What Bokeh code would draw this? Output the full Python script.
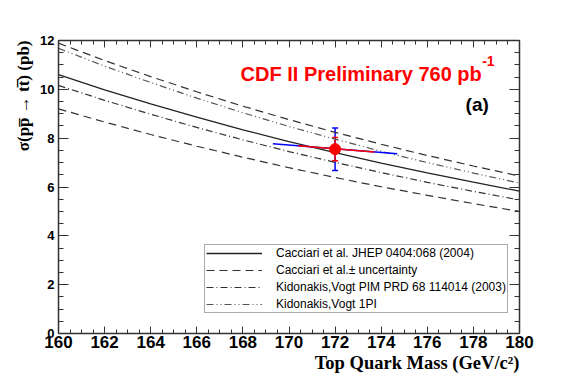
from bokeh.plotting import figure
from bokeh.models import (LinearAxis, SingleIntervalTicker, Range1d, Legend, LegendItem,
                          Label, Title, Whisker, ColumnDataSource, TeeHead, CustomJSTickFormatter)
from bokeh.embed import file_html
from bokeh.resources import INLINE

# ---------------- data ----------------
mass = [160, 162, 164, 166, 168, 170, 172, 174, 176, 178, 180]
cacciari = [10.60, 9.98, 9.40, 8.86, 8.34, 7.86, 7.41, 6.98, 6.58, 6.20, 5.83]
cacciari_hi = [11.89, 11.18, 10.52, 9.90, 9.31, 8.76, 8.24, 7.75, 7.29, 6.86, 6.45]
cacciari_lo = [9.20, 8.66, 8.15, 7.67, 7.22, 6.79, 6.39, 6.01, 5.66, 5.32, 5.00]
kv_pim = [10.16, 9.55, 8.98, 8.44, 7.93, 7.45, 7.01, 6.59, 6.19, 5.82, 5.47]
kv_1pi = [11.68, 10.95, 10.28, 9.64, 9.04, 8.48, 7.96, 7.46, 7.00, 6.57, 6.16]

meas_mass = [172.0]
meas_xs = [7.55]
stat_err = [0.48]
tot_err = [0.87]
band_mass_tot = [169.3, 174.7]
band_xs_tot = [7.77, 7.36]
band_mass_stat = [170.4, 173.7]
band_xs_stat = [7.69, 7.43]

legend_labels = ["Cacciari et al. JHEP 0404:068 (2004)",
                 "Cacciari et al.\u00b1 uncertainty",
                 "Kidonakis,Vogt PIM PRD 68 114014 (2003)",
                 "Kidonakis,Vogt 1PI"]
x_title = "Top Quark Mass (GeV/c\u00b2)"
y_title = "\u03c3(pp\u0305 \u2192 tt\u0305) (pb)"

# ---------------- figure ----------------
p = figure(width=570, height=384, x_range=Range1d(160, 180), y_range=Range1d(0, 12),
           output_backend="svg", toolbar_location=None,
           min_border_left=58, min_border_right=51, min_border_top=40, min_border_bottom=51)
p.xgrid.visible = False
p.ygrid.visible = False
p.outline_line_color = None
p.background_fill_color = "white"

AX = "#333333"

def style_axis(ax, tin, tmin, show_labels, size):
    ax.ticker = SingleIntervalTicker(interval=2, num_minor_ticks=4)
    ax.axis_line_color = AX
    ax.axis_line_width = 1.5
    ax.major_tick_line_color = AX
    ax.minor_tick_line_color = AX
    ax.major_tick_in = tin
    ax.major_tick_out = 0
    ax.minor_tick_in = tmin
    ax.minor_tick_out = 0
    ax.major_label_text_font = "Liberation Sans"
    ax.major_label_text_font_style = "bold"
    ax.major_label_text_color = "black"
    if show_labels:
        ax.major_label_text_font_size = size
    else:
        ax.formatter = CustomJSTickFormatter(code="return ''")
        ax.major_label_standoff = 0

xa = p.xaxis[0]
ya = p.yaxis[0]
style_axis(xa, 7, 4, True, "17px")
style_axis(ya, 10, 5, True, "13px")
xa.major_label_standoff = 2
ya.major_label_standoff = 4

top = LinearAxis()
style_axis(top, 7, 4, False, None)
p.add_layout(top, "above")
right = LinearAxis()
style_axis(right, 10, 5, False, None)
p.add_layout(right, "right")

# axis titles (ROOT style: aligned to the end of each axis)
p.add_layout(Title(text=x_title, align="right", text_font="Liberation Serif",
                   text_font_style="bold", text_font_size="18.5px", text_color="black",
                   standoff=0), "below")
p.add_layout(Title(text=y_title, align="right", text_font="Liberation Serif",
                   text_font_style="bold", text_font_size="17px", text_color="black",
                   standoff=10), "left")

# ---------------- curves ----------------
r_c = p.line(mass, cacciari, line_color="#222222", line_width=1.3)
r_ch = p.line(mass, cacciari_hi, line_color="#333333", line_width=1.2, line_dash="8 5")
p.line(mass, cacciari_lo, line_color="#333333", line_width=1.2, line_dash="8 5")
r_pim = p.line(mass, kv_pim, line_color="#333333", line_width=1.2, line_dash="7 3 1 3")
r_1pi = p.line(mass, kv_1pi, line_color="#555555", line_width=1.2, line_dash="7 3 1 3 1 3")

# ---------------- measurement ----------------
p.line(band_mass_tot, band_xs_tot, line_color="blue", line_width=1.5)
p.line(band_mass_stat, band_xs_stat, line_color="red", line_width=1.5)

up_tot = [v + e for v, e in zip(meas_xs, tot_err)]
lo_tot = [v - e for v, e in zip(meas_xs, tot_err)]
up_st = [v + e for v, e in zip(meas_xs, stat_err)]
lo_st = [v - e for v, e in zip(meas_xs, stat_err)]
src_tot = ColumnDataSource(dict(x=meas_mass, upper=up_tot, lower=lo_tot))
src_st = ColumnDataSource(dict(x=meas_mass, upper=up_st, lower=lo_st))
p.add_layout(Whisker(source=src_tot, base="x", upper="upper", lower="lower",
                     line_color="blue", line_width=1.5,
                     upper_head=TeeHead(size=6, line_color="blue", line_width=1.5),
                     lower_head=TeeHead(size=6, line_color="blue", line_width=1.5)))
p.add_layout(Whisker(source=src_st, base="x", upper="upper", lower="lower",
                     line_color="red", line_width=1.5,
                     upper_head=TeeHead(size=6, line_color="red", line_width=1.5),
                     lower_head=TeeHead(size=6, line_color="red", line_width=1.5)))
p.scatter(meas_mass, meas_xs, size=11, color="red", line_color="red")

# ---------------- texts ----------------
p.add_layout(Label(x=167.9, y=10.64, text="CDF II Preliminary 760 pb", text_color="#ff0000",
                   text_font="Liberation Sans", text_font_style="bold", text_font_size="20px",
                   text_baseline="alphabetic"))
p.add_layout(Label(x=178.38, y=11.14, text="-1", text_color="#ff0000",
                   text_font="Liberation Sans", text_font_style="bold", text_font_size="14px",
                   text_baseline="alphabetic"))
p.add_layout(Label(x=177.66, y=9.37, text="(a)", text_color="black",
                   text_font="Liberation Sans", text_font_style="bold", text_font_size="19px",
                   text_baseline="alphabetic"))

# ---------------- legend ----------------
legend = Legend(items=[LegendItem(label=legend_labels[0], renderers=[r_c]),
                       LegendItem(label=legend_labels[1], renderers=[r_ch]),
                       LegendItem(label=legend_labels[2], renderers=[r_pim]),
                       LegendItem(label=legend_labels[3], renderers=[r_1pi])],
                location=(146, 20), orientation="vertical",
                label_text_font="Liberation Sans", label_text_font_size="12px",
                label_text_color="black", label_height=14, label_standoff=14,
                glyph_width=56, glyph_height=14, spacing=3, padding=1, margin=0,
                border_line_color="#555555", border_line_width=1.2,
                background_fill_color="white", background_fill_alpha=1.0)
p.add_layout(legend)

open("out.html", "w").write(file_html(p, INLINE))
